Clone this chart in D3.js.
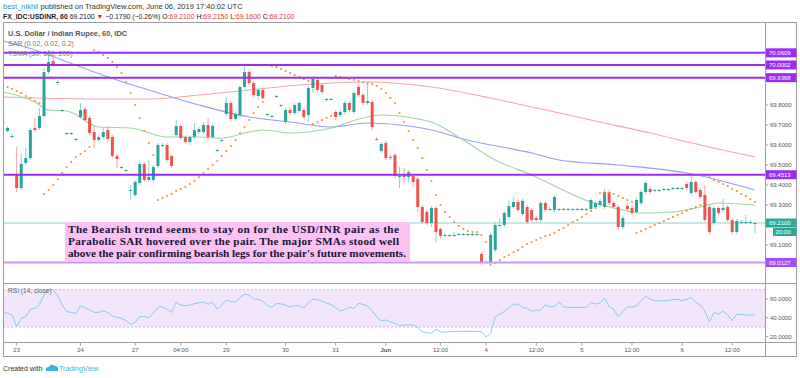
<!DOCTYPE html>
<html><head><meta charset="utf-8">
<script src="https://cdn.jsdelivr.net/npm/d3@7"></script>
<style>body{margin:0;background:#fff;} svg{display:block;font-family:"Liberation Sans",Arial,sans-serif;}</style>
</head><body><svg id="c" width="800" height="378"></svg>
<script>
// ---------- DATA ----------
const opens = [69.71,69.67,69.64,69.45,69.385,69.51,69.535,69.685,69.685,69.745,
69.965,70.02,69.91,69.77,69.655,69.655,69.625,69.74,69.78,69.735,
69.665,69.625,69.64,69.675,69.64,69.545,69.485,69.47,69.37,69.35,
69.41,69.505,69.425,69.425,69.495,69.595,69.6,69.545,69.65,69.695,
69.64,69.615,69.64,69.665,69.665,69.7,69.64,69.57,69.62,69.755,
69.81,69.73,69.75,69.89,69.965,69.91,69.845,69.875,69.75,69.74,
69.84,69.795,69.715,69.775,69.76,69.77,69.775,69.75,69.885,69.925,
69.9,69.825,69.825,69.765,69.75,69.765,69.81,69.765,69.89,69.85,
69.81,69.815,69.63,69.57,69.61,69.54,69.55,69.44,69.45,69.44,
69.445,69.43,69.29,69.265,69.21,69.285,69.18,69.145,69.15,69.145,
69.15,69.15,69.15,69.15,69.15,69.055,69.01,69.015,69.075,69.195,
69.2,69.24,69.29,69.315,69.255,69.29,69.275,69.235,69.225,69.31,
69.275,69.275,69.275,69.275,69.275,69.275,69.275,69.275,69.275,69.28,
69.29,69.3,69.29,69.365,69.31,69.29,69.19,69.295,69.285,69.265,
69.31,69.365,69.38,69.37,69.37,69.375,69.375,69.38,69.38,69.38,
69.405,69.36,69.415,69.375,69.35,69.29,69.21,69.285,69.275,69.29,
69.225,69.165,69.21,69.21,69.21,69.21];
const highs = [69.73,69.695,69.655,69.59,69.56,69.585,69.685,69.735,69.785,69.985,
70.075,70.045,69.925,69.78,69.665,69.665,69.635,69.81,69.79,69.745,
69.7,69.65,69.69,69.695,69.65,69.555,69.495,69.48,69.4,69.425,
69.515,69.515,69.525,69.5,69.61,69.61,69.61,69.555,69.725,69.705,
69.65,69.65,69.71,69.69,69.715,69.735,69.705,69.58,69.63,69.84,
69.82,69.765,69.9,70.0,69.975,69.92,69.885,69.885,69.76,69.75,
69.85,69.805,69.785,69.785,69.81,69.82,69.785,69.895,69.945,69.935,
69.91,69.835,69.835,69.775,69.775,69.82,69.82,69.87,69.9,69.86,
69.915,69.825,69.64,69.615,69.62,69.55,69.56,69.49,69.485,69.475,
69.455,69.44,69.3,69.275,69.295,69.295,69.19,69.16,69.155,69.165,
69.16,69.16,69.16,69.16,69.16,69.065,69.025,69.16,69.215,69.23,
69.27,69.325,69.34,69.325,69.33,69.3,69.285,69.245,69.32,69.32,
69.29,69.35,69.285,69.285,69.285,69.285,69.285,69.285,69.285,69.335,
69.32,69.33,69.38,69.375,69.32,69.3,69.245,69.305,69.295,69.335,
69.375,69.42,69.39,69.38,69.38,69.385,69.385,69.39,69.39,69.39,
69.415,69.45,69.425,69.385,69.4,69.3,69.295,69.295,69.33,69.3,
69.235,69.23,69.225,69.25,69.225,69.215];
const lows = [69.695,69.66,69.63,69.365,69.375,69.5,69.525,69.665,69.675,69.735,
69.955,69.99,69.9,69.765,69.65,69.65,69.62,69.73,69.715,69.65,
69.585,69.615,69.63,69.615,69.535,69.485,69.48,69.465,69.325,69.34,
69.4,69.415,69.415,69.415,69.485,69.59,69.515,69.485,69.64,69.625,
69.605,69.6,69.63,69.655,69.655,69.63,69.63,69.565,69.615,69.745,
69.72,69.72,69.74,69.88,69.9,69.84,69.825,69.825,69.745,69.735,
69.835,69.79,69.705,69.75,69.75,69.76,69.73,69.715,69.86,69.865,
69.855,69.82,69.82,69.725,69.74,69.755,69.765,69.755,69.84,69.8,
69.8,69.675,69.62,69.56,69.525,69.525,69.435,69.385,69.41,69.415,
69.39,69.265,69.205,69.2,69.19,69.115,69.135,69.14,69.14,69.14,
69.145,69.145,69.145,69.145,69.145,69.0,69.005,69.005,69.065,69.185,
69.19,69.23,69.28,69.265,69.245,69.205,69.215,69.215,69.215,69.265,
69.27,69.265,69.27,69.27,69.27,69.27,69.27,69.27,69.27,69.27,
69.28,69.29,69.28,69.3,69.28,69.175,69.18,69.27,69.25,69.255,
69.3,69.355,69.355,69.365,69.365,69.37,69.37,69.375,69.375,69.375,
69.375,69.35,69.355,69.33,69.215,69.155,69.2,69.25,69.265,69.215,
69.155,69.155,69.205,69.205,69.205,69.16];
const closes = [69.715,69.685,69.645,69.385,69.505,69.535,69.675,69.675,69.745,69.965,
70.015,70.005,69.915,69.775,69.66,69.66,69.63,69.775,69.725,69.66,
69.625,69.64,69.665,69.63,69.545,69.53,69.49,69.475,69.375,69.415,
69.505,69.425,69.44,69.49,69.6,69.6,69.525,69.495,69.695,69.635,
69.615,69.64,69.675,69.68,69.7,69.64,69.695,69.575,69.625,69.81,
69.73,69.755,69.89,69.965,69.91,69.85,69.875,69.835,69.755,69.745,
69.845,69.8,69.775,69.76,69.8,69.81,69.74,69.885,69.93,69.875,
69.865,69.83,69.83,69.74,69.765,69.81,69.775,69.86,69.85,69.81,
69.82,69.69,69.625,69.605,69.535,69.535,69.445,69.445,69.44,69.465,
69.415,69.29,69.215,69.21,69.285,69.165,69.145,69.15,69.145,69.15,
69.155,69.155,69.155,69.155,69.155,69.01,69.015,69.15,69.2,69.2,
69.26,69.295,69.315,69.275,69.32,69.215,69.225,69.225,69.31,69.275,
69.28,69.34,69.28,69.28,69.28,69.28,69.28,69.28,69.28,69.325,
69.31,69.32,69.365,69.31,69.29,69.19,69.235,69.28,69.26,69.325,
69.365,69.41,69.365,69.375,69.375,69.38,69.38,69.385,69.385,69.385,
69.385,69.415,69.365,69.34,69.225,69.165,69.285,69.26,69.285,69.225,
69.165,69.22,69.215,69.215,69.215,69.21];
const sar = [69.9,69.89,69.88,69.87,69.86,69.845,69.835,69.82,69.81,69.355,
69.375,69.4,69.43,69.46,69.49,69.515,69.54,69.555,69.57,69.59,
70.075,70.065,70.05,70.035,70.015,69.99,69.96,69.915,69.86,69.8,
69.735,69.67,69.61,69.55,69.325,69.335,69.345,69.355,69.37,69.38,
69.39,69.405,69.42,69.44,69.46,69.48,69.5,69.52,69.545,69.57,
69.595,69.625,69.66,69.69,69.725,69.76,69.79,69.815,70.0,69.995,
69.99,69.98,69.97,69.96,69.95,69.94,69.93,69.92,69.705,69.715,
69.725,69.735,69.745,69.945,69.94,69.935,69.93,69.925,69.92,69.915,
69.91,69.905,69.895,69.88,69.86,69.835,69.81,69.76,69.715,69.67,
69.625,69.585,69.535,69.475,69.42,69.35,69.3,69.265,69.24,69.215,
69.195,69.18,69.17,69.165,69.165,69.15,69.115,69.0,69.01,69.025,
69.04,69.05,69.065,69.075,69.09,69.105,69.115,69.125,69.135,69.145,
69.15,69.16,69.175,69.185,69.2,69.215,69.225,69.24,69.255,69.27,
69.285,69.36,69.36,69.36,69.355,69.345,69.335,69.325,69.315,69.16,
69.17,69.18,69.19,69.2,69.21,69.22,69.23,69.24,69.25,69.26,
69.27,69.28,69.29,69.3,69.45,69.44,69.425,69.415,69.405,69.395,
69.38,69.37,69.355,69.345,69.33,69.315];
// moving averages: [bar, value]
const sma50 = [[0,69.865],[7,69.815],[10,69.775],[14,69.77],[21,69.69],[28,69.685],[36,69.64],[43,69.64],[48,69.635],[54,69.665],[57,69.675],[63,69.66],[72,69.685],[79,69.735],[83,69.75],[90,69.735],[94,69.715],[101,69.625],[108,69.525],[116,69.45],[129,69.315],[135,69.28],[140,69.26],[147,69.265],[153,69.29],[157,69.31],[165,69.3]];
const sma100 = [[0,70.12],[7,70.075],[10,70.05],[27,69.91],[32,69.875],[43,69.8],[54,69.74],[63,69.715],[72,69.69],[80,69.71],[87,69.7],[94,69.675],[101,69.63],[116,69.56],[122,69.525],[135,69.5],[150,69.46],[165,69.375]];
const sma200 = [[0,69.84],[21,69.83],[32,69.83],[43,69.85],[54,69.875],[65,69.9],[80,69.915],[94,69.89],[109,69.825],[116,69.79],[131,69.715],[142,69.66],[153,69.6],[165,69.54]];
const rsi = [46.4,44.7,42.9,30.4,39.3,41.1,49.0,50.0,54.3,64.3,
69.6,70.3,63.2,53.6,46.4,45.7,44.7,52.5,50.7,48.2,
45.7,45.7,47.5,45.4,41.8,40.4,39.3,36.8,32.9,35.1,
41.1,41.1,40.0,44.7,51.1,51.8,49.0,45.7,56.5,53.6,
52.8,53.6,55.0,56.0,56.8,54.3,56.8,49.0,53.6,58.9,
57.1,57.1,61.4,65.3,64.3,60.0,59.6,57.9,52.8,51.1,
55.4,54.7,53.6,51.4,52.8,52.5,50.4,56.0,60.0,59.3,
57.5,55.7,53.9,50.7,47.2,49.0,51.1,50.0,55.4,54.3,
52.5,47.5,41.1,36.8,37.5,35.7,34.0,31.4,32.2,32.2,
32.5,29.6,25.1,24.1,23.3,27.6,24.8,24.4,25.1,25.4,
25.4,25.4,25.4,25.4,25.4,24.8,19.4,23.3,41.1,43.6,
46.8,50.7,54.0,54.7,51.1,50.0,46.8,48.2,48.2,54.0,
51.8,51.8,56.8,51.8,51.1,51.1,51.1,51.1,51.1,56.1,
54.7,55.7,60.7,51.8,49.0,41.1,46.5,51.8,51.1,52.5,
58.2,62.8,60.0,58.2,58.2,58.2,58.2,59.6,59.6,58.2,
59.6,61.8,56.4,53.6,47.1,35.7,45.4,44.0,46.8,43.2,
37.1,43.6,43.6,42.9,42.9,42.9];
const timeTickBars = [3,17,29,39,49,62,73,84,96,106,117,127,138,149,160];
const timeTickLabels = ["23","24","27","04:00","29","30","31","Jun","12:00","4","12:00","5","12:00","6","12:00"];
const priceTicks = [70.1,70.0,69.9,69.8,69.7,69.6,69.5,69.4,69.3,69.2,69.1,69.0];
const levelLines = [70.0609,70.0002,69.9368,69.4513,69.0127];
const rsiTicks = [20,40,60];
const rsiBand = [70,30];
const lastPrice = 69.21;
const note = ["The Bearish trend seems to stay on for the USD/INR pair as the",
              "Parabolic SAR hovered over the pair. The major SMAs stood well",
              "above the pair confirming bearish legs for the pair's future movements."];

// ---------- LAYOUT ----------
const L=3, R=765, FR=797, T=22, MB=283.5, RB=342.5, AB=357;
const svg = d3.select("#c");
const x = d3.scaleLinear().domain([0,165]).range([3,755]);
const y = d3.scaleLinear().domain([68.9075,70.215]).range([MB,T]);
const yr = d3.scaleLinear().domain([13.5,76.6]).range([RB,MB]);
const UP="#26a69a", DN="#ef5350", UPW="#8fd3ca", DNW="#f5a3a8";
const PURPLE="#9b2cf6";

svg.append("rect").attr("width",800).attr("height",378).attr("fill","#fff");

// header
const h1 = svg.append("text").attr("x",3).attr("y",9).attr("font-size",7.5);
h1.append("tspan").attr("fill","#2e8fd6").text("best_nikhil");
h1.append("tspan").attr("fill","#333").text(" published on TradingView.com, June 06, 2019 17:40:02 UTC");
const h2 = svg.append("text").attr("x",3).attr("y",19).attr("font-size",6.9).attr("fill","#222");
h2.append("tspan").attr("font-weight","bold").text("FX_IDC:USDINR, 60");
h2.append("tspan").text(" 69.2100 ");
h2.append("tspan").attr("fill","#d32f2f").text("▼");
h2.append("tspan").text(" −0.1790 (−0.26%) O:");
h2.append("tspan").attr("fill","#e53935").text("69.2100");
h2.append("tspan").text(" H:");
h2.append("tspan").attr("fill","#e53935").text("69.2150");
h2.append("tspan").text(" L:");
h2.append("tspan").attr("fill","#e53935").text("69.1600");
h2.append("tspan").text(" C:");
h2.append("tspan").attr("fill","#e53935").text("69.2100");

// clip
svg.append("clipPath").attr("id","mc").append("rect").attr("x",L).attr("y",T).attr("width",R-L).attr("height",MB-T);
svg.append("clipPath").attr("id","rc").append("rect").attr("x",L).attr("y",MB).attr("width",R-L).attr("height",RB-MB);
const main = svg.append("g").attr("clip-path","url(#mc)");

// legend texts
svg.append("text").attr("x",8).attr("y",36).attr("font-size",7.4).attr("font-weight","bold").attr("fill","#555").text("U.S. Dollar / Indian Rupee, 60, IDC");
svg.append("text").attr("x",8).attr("y",46).attr("font-size",7).attr("fill","#777").text("SAR (0.02, 0.02, 0.2)");
svg.append("text").attr("x",8).attr("y",55.5).attr("font-size",7).attr("fill","#777").text("TSMA (50, 100, 200)");

// last price line
main.append("line").attr("x1",L).attr("x2",R).attr("y1",y(lastPrice)).attr("y2",y(lastPrice))
  .attr("stroke","#b5e2dc").attr("stroke-width",1.5);

// moving averages
const ln = d3.line().x(d=>x(d[0])).y(d=>y(d[1])).curve(d3.curveMonotoneX);
main.append("path").attr("d",ln(sma200)).attr("fill","none").attr("stroke","#f6a5a3").attr("stroke-width",1.1);
main.append("path").attr("d",ln(sma100)).attr("fill","none").attr("stroke","#9b9cf4").attr("stroke-width",1.1);
main.append("path").attr("d",ln(sma50)).attr("fill","none").attr("stroke","#9fd59f").attr("stroke-width",1.1);

// candles
const idx = d3.range(opens.length);
main.selectAll("line.w").data(idx).join("line").attr("class","w")
  .attr("x1",i=>x(i)).attr("x2",i=>x(i)).attr("y1",i=>y(highs[i])).attr("y2",i=>y(lows[i]))
  .attr("stroke",i=>closes[i]>=opens[i]?UPW:DNW).attr("stroke-width",1);
main.selectAll("rect.b").data(idx).join("rect").attr("class","b")
  .attr("x",i=>x(i)-1.5).attr("width",3)
  .attr("y",i=>Math.min(y(opens[i]),y(closes[i])))
  .attr("height",i=>Math.max(1,Math.abs(y(opens[i])-y(closes[i]))))
  .attr("fill",i=>closes[i]>=opens[i]?UP:DN);

// SAR
main.selectAll("circle.s").data(idx).join("circle").attr("class","s")
  .attr("cx",i=>x(i)).attr("cy",i=>y(sar[i])).attr("r",1.05).attr("fill","#fb8c2c");

// level lines
main.selectAll("line.lv").data(levelLines).join("line").attr("class","lv")
  .attr("x1",L).attr("x2",R).attr("y1",d=>y(d)).attr("y2",d=>y(d))
  .attr("stroke",(d,i)=>i===4?"#c79af7":PURPLE).attr("stroke-width",2);

// note box
const nb = svg.append("g");
nb.append("rect").attr("x",65).attr("y",222).attr("width",345).attr("height",39).attr("fill","#fcc2f2");
nb.selectAll("text").data(note).join("text").attr("x",68).attr("y",(d,i)=>233+i*12)
  .attr("font-family","'Liberation Serif','Times New Roman',serif").attr("font-size",11.2).attr("font-weight","bold")
  .attr("textLength",(d,i)=>i===2?338:331).attr("lengthAdjust","spacing")
  .attr("fill","#151538").text(d=>d);

// RSI pane
const rg = svg.append("g").attr("clip-path","url(#rc)");
rg.append("rect").attr("x",L).attr("width",R-L).attr("y",yr(rsiBand[0])).attr("height",yr(rsiBand[1])-yr(rsiBand[0])).attr("fill","#f3e5fc");
rg.selectAll("line.bd").data(rsiBand).join("line").attr("class","bd").attr("x1",L).attr("x2",R)
  .attr("y1",d=>yr(d)).attr("y2",d=>yr(d)).attr("stroke","#d6b3ef").attr("stroke-dasharray","2,2").attr("stroke-width",1);
rg.append("path").attr("d",d3.line().x((d,i)=>x(i)).y(d=>yr(d))(rsi)).attr("fill","none").attr("stroke","#7fcdef").attr("stroke-width",1);
svg.append("text").attr("x",8).attr("y",293).attr("font-size",6.6).attr("fill","#666").text("RSI (14, close)");

// frame
const fc = "#9e9e9e";
svg.append("rect").attr("x",L+0.5).attr("y",T+0.5).attr("width",FR-L-1).attr("height",AB-T-1).attr("fill","none").attr("stroke",fc);
svg.append("line").attr("x1",R+0.5).attr("x2",R+0.5).attr("y1",T).attr("y2",AB).attr("stroke",fc);
[MB,RB].forEach(v=>svg.append("line").attr("x1",L).attr("x2",FR).attr("y1",v).attr("y2",v).attr("stroke",fc));

// price axis
const visTicks = priceTicks.filter(t=>!levelLines.concat([lastPrice]).some(v=>Math.abs(y(v)-y(t))<8));
const pa = svg.append("g");
pa.selectAll("line").data(visTicks).join("line").attr("x1",R).attr("x2",R+3).attr("y1",d=>y(d)).attr("y2",d=>y(d)).attr("stroke",fc);
pa.selectAll("text").data(visTicks).join("text").attr("x",R+5).attr("y",d=>y(d)+2.2)
  .attr("font-size",6).attr("fill","#555").text(d=>d.toFixed(4));
// level labels
const lab = svg.append("g");
levelLines.forEach((v,i)=>{
  lab.append("rect").attr("x",R+1).attr("y",y(v)-4.5).attr("width",FR-R-1.5).attr("height",9).attr("fill",i===4?"#a64bf8":PURPLE);
  lab.append("text").attr("x",R+4).attr("y",y(v)+2.2).attr("font-size",6).attr("fill","#fff").text(v.toFixed(4));
});
lab.append("rect").attr("x",R+1).attr("y",y(lastPrice)-4.5).attr("width",FR-R-1.5).attr("height",9).attr("fill","#2aa99b");
lab.append("text").attr("x",R+4).attr("y",y(lastPrice)+2.2).attr("font-size",6).attr("fill","#fff").text(lastPrice.toFixed(4));
lab.append("rect").attr("x",R+8).attr("y",y(lastPrice)+5).attr("width",FR-R-8.5).attr("height",8).attr("fill","#2aa99b");
lab.append("text").attr("x",R+10.5).attr("y",y(lastPrice)+11).attr("font-size",6).attr("fill","#fff").text("20:00");

// RSI axis
const ra = svg.append("g");
ra.selectAll("line").data(rsiTicks).join("line").attr("x1",R).attr("x2",R+3).attr("y1",d=>yr(d)).attr("y2",d=>yr(d)).attr("stroke",fc);
ra.selectAll("text").data(rsiTicks).join("text").attr("x",R+5).attr("y",d=>yr(d)+2.2).attr("font-size",6).attr("fill","#555").text(d=>d.toFixed(4));

// time axis
const ta = svg.append("g");
ta.selectAll("line").data(timeTickBars).join("line").attr("x1",d=>x(d)).attr("x2",d=>x(d)).attr("y1",RB).attr("y2",RB+3).attr("stroke",fc);
ta.selectAll("text").data(timeTickBars).join("text").attr("x",d=>x(d)).attr("y",RB+9.5).attr("text-anchor","middle")
  .attr("font-size",6).attr("fill","#555").attr("font-weight",(d,i)=>timeTickLabels[i]==="Jun"?"bold":"normal").text((d,i)=>timeTickLabels[i]);

// footer
svg.append("text").attr("x",3).attr("y",371).attr("font-size",7).attr("fill","#333").text("Created with");
svg.append("path").attr("d","M46,371 q-1,-4 3,-4 q2,-4 6,-1 q4,0 3,5 z").attr("fill","#3bb3e4");
svg.append("text").attr("x",59).attr("y",371).attr("font-size",7.2).attr("fill","#3bb3e4").text("TradingView");
</script></body></html>
